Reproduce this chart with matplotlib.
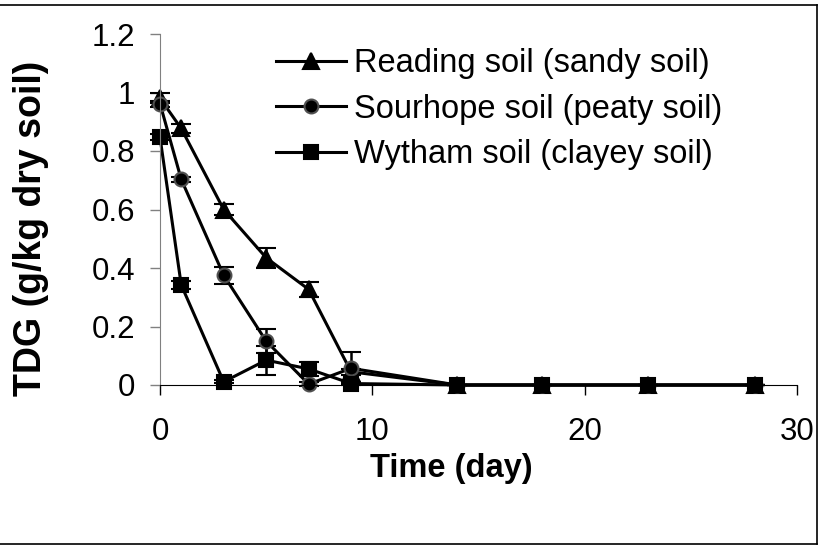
import matplotlib
matplotlib.use("Agg")
import matplotlib.pyplot as plt
from matplotlib.lines import Line2D

plt.rcParams['font.family'] = ['Liberation Sans', 'DejaVu Sans']

# sampling days
days = [0, 1, 3, 5, 7, 9, 14, 18, 23, 28]

# TDG (g/kg dry soil)
reading = [0.98, 0.877, 0.60, 0.435, 0.327, 0.045, 0, 0, 0, 0]
reading_err = [0.017, 0.016, 0.02, 0.035, 0.025, 0.01, 0, 0, 0, 0]

sourhope = [0.962, 0.703, 0.375, 0.150, 0.003, 0.057, 0, 0, 0, 0]
sourhope_err = [0.01, 0.008, 0.03, 0.04, 0.008, 0.055, 0, 0, 0, 0]

wytham = [0.847, 0.342, 0.011, 0.085, 0.055, 0.005, 0, 0, 0, 0]
wytham_err = [0.01, 0.015, 0.005, 0.05, 0.025, 0.005, 0, 0, 0, 0]

labels = ["Reading soil (sandy soil)", "Sourhope soil (peaty soil)",
          "Wytham soil (clayey soil)"]

fig = plt.figure(figsize=(8.19, 5.47), dpi=100)
ax = fig.add_axes([160 / 819, 1 - 385 / 547, 637 / 819, 351 / 547])

series = [
    (reading, reading_err, '^', 11.5, 'black', 'black'),
    (sourhope, sourhope_err, 'o', 10, 'black', '#505050'),
    (wytham, wytham_err, 's', 10.5, 'black', 'black'),
]
handles = []
for (vals, err, mk, ms, fc, ec), lab in zip(series, labels):
    ax.errorbar(days, vals, yerr=err, color='black', lw=2.2, marker=mk,
                markersize=ms, markerfacecolor=fc, markeredgecolor=ec,
                markeredgewidth=1.5, ecolor='black', elinewidth=1.8,
                capsize=7, capthick=1.8, clip_on=False)
    handles.append(Line2D([], [], color='black', lw=2.2, marker=mk,
                          markersize=ms, markerfacecolor=fc,
                          markeredgecolor=ec, markeredgewidth=1.5, label=lab))

ax.set_xlim(0, 30)
ax.set_ylim(0, 1.2)
ax.set_xticks([0, 10, 20, 30])
ax.set_yticks([0, 0.2, 0.4, 0.6, 0.8, 1.0, 1.2])
ax.set_yticklabels(['0', '0.2', '0.4', '0.6', '0.8', '1', '1.2'])

ax.spines['top'].set_visible(False)
ax.spines['right'].set_visible(False)
ax.spines['left'].set_color('#808080')
ax.spines['bottom'].set_color('black')
ax.tick_params(axis='both', direction='out', length=7, width=1,
               labelsize=22.5, colors='black')
ax.tick_params(axis='x', pad=16)
ax.tick_params(axis='y', pad=11, color='#808080')

ax.set_xlabel("Time (day)", fontsize=23.5, fontweight='bold')
ax.set_ylabel("TDG (g/kg dry soil)", fontsize=27, fontweight='bold')
ax.xaxis.label.set_va('center')
ax.yaxis.label.set_va('center')
ax.xaxis.set_label_coords(0.458, -0.238)
ax.yaxis.set_label_coords(-0.2025, 0.446)

leg = fig.legend(handles=handles, loc='upper left',
                 bbox_to_anchor=(276 / 819, 1 - 48 / 547), frameon=False,
                 fontsize=23.5, handlelength=2.15, handletextpad=0.25,
                 labelspacing=0.45, borderaxespad=0, borderpad=0)

# outer frame around the picture
fig.add_artist(Line2D([0, 817 / 819], [1 - 5 / 547, 1 - 5 / 547],
                      color='black', lw=1.2, transform=fig.transFigure))
fig.add_artist(Line2D([817 / 819, 817 / 819], [1 - 5 / 547, 1 - 544 / 547],
                      color='black', lw=1.2, transform=fig.transFigure))
fig.add_artist(Line2D([0, 817 / 819], [1 - 544 / 547, 1 - 544 / 547],
                      color='black', lw=1.2, transform=fig.transFigure))

fig.savefig("out.png", dpi=100)
